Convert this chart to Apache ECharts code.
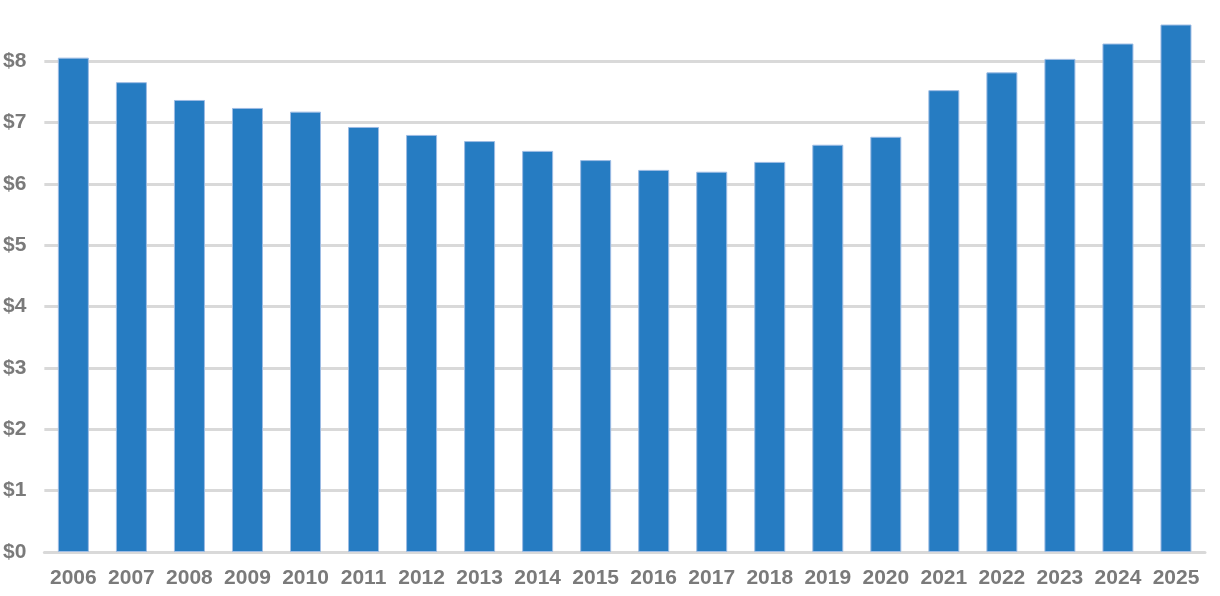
<!DOCTYPE html>
<html>
<head>
<meta charset="utf-8">
<script src="https://cdn.jsdelivr.net/npm/echarts@6/dist/echarts.min.js"></script>
<style>
  html, body { margin: 0; padding: 0; background: #fff; }
  #main { width: 1220px; height: 596px; }
</style>
</head>
<body>
<div id="main"></div>
<script>
var years = ['2006', '2007', '2008', '2009', '2010', '2011', '2012', '2013', '2014', '2015',
  '2016', '2017', '2018', '2019', '2020', '2021', '2022', '2023', '2024', '2025']
var values = [8.06, 7.66, 7.37, 7.24, 7.18, 6.93, 6.80, 6.70, 6.54, 6.39,
  6.23, 6.20, 6.36, 6.64, 6.77, 7.53, 7.82, 8.04, 8.29, 8.60]
var yTicks = ['$0', '$1', '$2', '$3', '$4', '$5', '$6', '$7', '$8']

var labelColor = '#7a7a7a'
var gridColor = '#d9d9d9'

// one colour per split line, the line at the cut-off top ($9) is hidden
var splitColors = yTicks.map(function () { return gridColor })
splitColors.push('rgba(0,0,0,0)')

var myChart = echarts.init(document.getElementById('main'))

var option = {
  animation: false,
  grid: {
    left: 44,
    right: 15,
    top: -3,
    bottom: 44
  },
  xAxis: {
    type: 'category',
    data: years,
    axisTick: { show: false },
    axisLine: { show: true, lineStyle: { color: gridColor, width: 3 } },
    axisLabel: {
      interval: 0,
      color: labelColor,
      fontFamily: 'Liberation Sans, Arial, sans-serif',
      fontWeight: 'bold',
      fontSize: 21,
      margin: 16
    }
  },
  yAxis: {
    type: 'value',
    min: 0,
    max: 9,
    interval: 1,
    axisLine: { show: false },
    axisTick: { show: false },
    splitLine: { lineStyle: { color: splitColors, width: 3 } },
    axisLabel: {
      color: labelColor,
      fontFamily: 'Liberation Sans, Arial, sans-serif',
      fontWeight: 'bold',
      fontSize: 21,
      margin: 18,
      formatter: function (v) {
        return yTicks[v] || ''
      }
    }
  },
  series: [{
    type: 'bar',
    data: values,
    barWidth: 31,
    itemStyle: {
      color: '#267cc2',
      borderColor: '#9dbce4',
      borderWidth: 1
    }
  }]
}

myChart.setOption(option)
</script>
</body>
</html>
